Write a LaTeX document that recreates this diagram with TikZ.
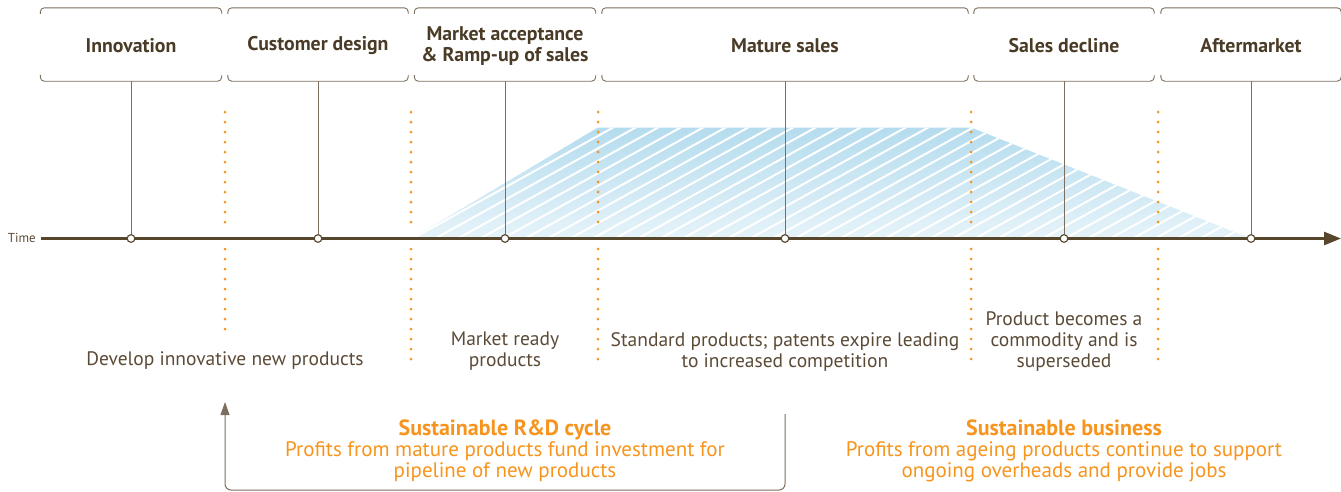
\documentclass[tikz,border=0pt]{standalone}
\usepackage{fontspec}
\setmainfont{PT Sans}
\usetikzlibrary{arrows.meta,calc}
\definecolor{ink}{HTML}{4A3B26}
\definecolor{bodyink}{HTML}{5B4A36}
\definecolor{axis}{HTML}{56462C}
\definecolor{rule}{HTML}{7B6E5C}
\definecolor{accent}{HTML}{F7941D}
\definecolor{sky}{HTML}{B4DCEE}
\definecolor{skypale}{HTML}{E6F3F9}
\newcommand{\gaintitlefont}{\bfseries\fontsize{22}{21}\selectfont}
\begin{document}
\begin{tikzpicture}[x=1pt,y=-1pt,
  phase/.style={minimum height=73pt, inner sep=0pt},
  phasetext/.style={font=\bfseries\fontsize{19.8}{21}\selectfont, text=ink, align=center, inner sep=0pt},
  hook/.style={draw=rule, line width=0.9pt, rounded corners=4pt},
  stem/.style={draw=rule, line width=1pt},
  tick/.style={circle, draw=axis, fill=white, line width=1pt, minimum size=7.5pt, inner sep=0pt},
  divider/.style={draw=accent, line width=3pt, line cap=round, dash pattern=on 0pt off 10pt},
  note/.style={font=\fontsize{19.5}{21}\selectfont, text=bodyink, align=center},
  gain/.style={font=\fontsize{21}{21}\selectfont, text=accent, align=center},
]
\useasboundingbox (0,0) rectangle (1341,491);

% sales volume area with diagonal hatching
\begin{scope}
  \clip (414,237) -- (598,127.5) -- (971,127.5) -- (1247,237) -- cycle;
  \shade[top color=sky, middle color=sky, bottom color=skypale] (400,127) rectangle (1260,238);
  \foreach \i in {0,...,50}
    \draw[white, line width=2pt] (230+\i*22.5,240) -- ++(260,-144);
\end{scope}

% phase dividers
\draw[divider] (225,112) -- (225,230);
\draw[divider] (225,249) -- (225,339);
\foreach \x in {411,598,971,1158}{
  \draw[divider] (\x,112) -- (\x,230);
  \draw[divider] (\x,249) -- (\x,369);
}

% phase frames and their headings
\node[phase, minimum width=181pt] (h1) at (131,44.5) {};
\node[phase, minimum width=180pt] (h2) at (318,44.5) {};
\node[phase, minimum width=181pt] (h3) at (505,44.5) {};
\node[phase, minimum width=366pt] (h4) at (785,44.5) {};
\node[phase, minimum width=180pt] (h5) at (1064,44.5) {};
\node[phase, minimum width=180pt] (h6) at (1251,44.5) {};

\node[phasetext] (l1) at ($(h1.center)+(0,1.5)$) {Innovation};
\node[phasetext] (l2) at ($(h2.center)+(0,1.5)$) {Customer design};
\node[phasetext] (l3) at ($(h3.center)+(0,1.5)$) {Market acceptance\\\& Ramp-up of sales};
\node[phasetext] (l4) at ($(h4.center)+(0,1.5)$) {Mature sales};
\node[phasetext] (l5) at ($(h5.center)+(0,1.5)$) {Sales decline};
\node[phasetext] (l6) at ($(h6.center)+(0,1.5)$) {Aftermarket};

\foreach \h in {h1,h2,h3,h4,h5,h6}{
  \draw[hook] ($(\h.north west)+(0,6)$) |- (\h.north) -| ($(\h.north east)+(0,6)$);
  \draw[hook] ($(\h.south west)+(0,-6)$) |- (\h.south) -| ($(\h.south east)+(0,-6)$);
}

% time axis
\coordinate (t0) at (41,238.5);
\coordinate (t1) at (1341,238.5);
\node[font=\fontsize{13}{15}\selectfont, text=bodyink, anchor=east, inner sep=0pt] (time) at (36,237.5) {Time};

\node[tick] (c1) at (131,238.5) {};
\node[tick] (c2) at (318,238.5) {};
\node[tick] (c3) at (505,238.5) {};
\node[tick] (c4) at (785,238.5) {};
\node[tick] (c5) at (1064,238.5) {};
\node[tick] (c6) at (1251,238.5) {};

\foreach \i in {1,...,6}
  \draw[stem] (h\i) -- (c\i);

\draw[axis, line width=2.7pt, -{Triangle[length=17pt,width=13pt]}] (t0) -- (t1);

\foreach \i in {1,...,6}
  \node[tick] at (c\i) {};

% phase descriptions
\node[note] (d1) at (225,360.5) {Develop innovative new products};
\node[note] (d3) at (505,351.5) {Market ready\\products};
\node[note] (d4) at (785,351.5) {Standard products; patents expire leading\\to increased competition};
\node[note] (d5) at (1064,341.5) {Product becomes a\\commodity and is\\superseded};

% profit cycles
\node[gain] (rd) at (505,450.5) {{\gaintitlefont Sustainable R\&D cycle}\\Profits from mature products fund investment for\\pipeline of new products};
\node[gain] (biz) at (1064,450.5) {{\gaintitlefont Sustainable business}\\Profits from ageing products continue to support\\ongoing overheads and provide jobs};

\coordinate (loopa) at (785,414);
\coordinate (loopb) at (225,402);
\draw[draw=rule, line width=1pt, rounded corners=6pt, -{Triangle[length=13pt,width=9pt]}]
  (loopa) -- (785,490) -- (225,490) -- (loopb);
\end{tikzpicture}
\end{document}
